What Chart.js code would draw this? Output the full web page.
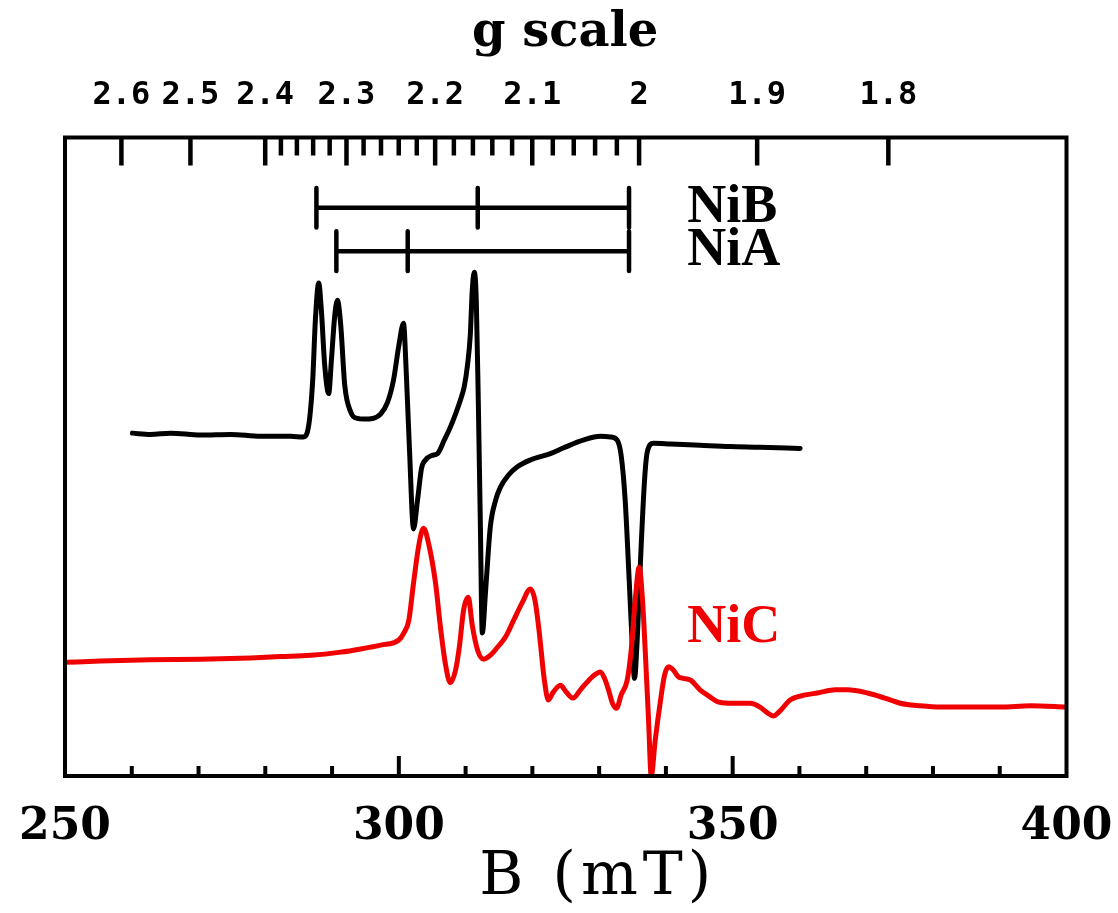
<!DOCTYPE html>
<html>
<head>
<meta charset="utf-8">
<script src="https://cdn.jsdelivr.net/npm/chart.js@4"></script>
<style>
  html, body { margin: 0; padding: 0; background: #fff; }
  canvas { display: block; }
</style>
</head>
<body>
<canvas id="epr" width="1118" height="913"></canvas>
<script>
// microwave frequency used for the g scale, B(mT) = 71.4477 * nu(GHz) / g
const freqGHz = 9.405;

// NiA + NiB spectrum (black), field in mT, intensity in arbitrary units
const fieldNiAB = [260.1, 262.8, 265.8, 270.3, 274.8, 279.3, 283.8, 285.7, 286.5, 287.1,
  287.5, 288.0, 288.4, 288.9, 289.5, 289.9, 290.4, 290.8, 291.3, 291.9,
  292.8, 293.8, 294.7, 296.1, 297.3, 298.3, 299.2, 300.0, 300.7, 301.1,
  301.6, 302.2, 302.8, 303.4, 304.0, 304.9, 305.8, 306.8, 307.7, 308.6,
  309.2, 309.8, 310.3, 310.7, 311.0, 311.3, 311.6, 311.9, 312.2, 312.5,
  313.0, 313.7, 314.5, 315.2, 316.4, 317.7, 319.7, 322.7, 324.9, 327.6,
  330.2, 331.7, 332.7, 333.3, 333.9, 334.5, 335.0, 335.3, 335.7, 336.2,
  336.8, 337.2, 338.1, 340.7, 345.1, 349.6, 354.1, 360.1];
const signalNiAB = [53.7, 53.5, 53.7, 53.4, 53.5, 53.2, 53.2, 53.1, 54.9, 62.0,
  71.4, 77.2, 72.9, 64.3, 59.9, 65.1, 72.1, 74.5, 70.6, 61.2,
  57.0, 56.0, 55.9, 56.0, 56.7, 58.5, 62.0, 67.4, 70.9, 63.5,
  51.0, 38.7, 43.2, 48.2, 49.5, 50.2, 50.5, 52.6, 54.6, 57.0,
  58.8, 61.0, 64.5, 69.0, 76.1, 78.9, 74.5, 58.8, 40.1, 22.4,
  29.1, 39.0, 43.2, 45.2, 47.1, 48.4, 49.5, 50.5, 51.5, 52.6,
  53.2, 53.1, 52.6, 50.2, 43.2, 30.7, 19.7, 15.3, 21.3, 33.8,
  46.3, 50.7, 52.1, 52.0, 51.8, 51.6, 51.5, 51.3];

// NiC spectrum (red)
const fieldNiC = [250.1, 255.3, 262.8, 270.3, 277.8, 282.3, 286.8, 291.3, 294.3, 297.3,
  300.0, 300.8, 301.5, 302.2, 303.0, 303.7, 304.5, 305.5, 306.2, 307.0,
  307.7, 308.5, 309.1, 309.7, 310.4, 311.0, 311.8, 312.7, 313.7, 314.8,
  316.0, 317.2, 318.5, 319.7, 320.4, 321.0, 321.8, 322.4, 323.1, 324.2,
  325.1, 326.1, 327.2, 328.2, 329.3, 330.2, 330.8, 331.4, 332.0, 332.6,
  333.3, 334.2, 334.8, 335.4, 336.0, 336.5, 336.9, 337.4, 337.8, 338.4,
  339.2, 339.8, 340.4, 341.1, 341.9, 342.6, 343.7, 345.1, 346.6, 347.8,
  349.2, 351.1, 352.6, 354.1, 355.2, 356.1, 357.1, 358.6, 360.9, 362.7,
  365.4, 367.2, 370.2, 372.8, 375.1, 378.1, 381.1, 385.6, 390.1, 394.6, 400.0];
const signalNiC = [17.8, 18.0, 18.2, 18.3, 18.5, 18.7, 18.9, 19.4, 19.9, 20.5,
  21.3, 22.5, 24.4, 30.2, 36.2, 38.8, 36.2, 30.2, 23.6, 17.4,
  14.6, 16.6, 20.5, 26.0, 28.0, 23.6, 19.7, 18.3, 18.9, 20.2,
  21.8, 24.4, 27.2, 29.3, 27.5, 22.8, 15.0, 11.9, 13.1, 14.2,
  13.1, 12.2, 13.5, 14.7, 15.8, 16.3, 15.3, 13.5, 11.4, 10.6,
  12.7, 15.0, 19.7, 27.5, 32.7, 27.5, 19.7, 8.8, 0.0, 5.6,
  11.9, 15.8, 17.1, 16.6, 15.5, 15.3, 15.0, 13.5, 12.4, 11.6,
  11.4, 11.4, 11.4, 10.8, 9.9, 9.4, 10.2, 11.9, 12.7, 13.0,
  13.5, 13.5, 13.0, 12.2, 11.4, 11.0, 10.8, 10.8, 10.8, 11.0, 10.8];

// g values of the NiB and NiA components (bars at the top)
const gNiB = [2.336, 2.155, 2.009];
const gNiA = [2.312, 2.230, 2.009];
const barLevelNiB = 89.0;
const barLevelNiA = 82.2;

// axis ticks
const bTickLabels = [250, 300, 350, 400];
const gMajorTicks = [2.6, 2.5, 2.4, 2.3, 2.2, 2.1, 2.0, 1.9, 1.8];
const gMajorLabels = ['2.6', '2.5', '2.4', '2.3', '2.2', '2.1', '2', '1.9', '1.8'];
const gMinorTicks = [2.38, 2.36, 2.34, 2.32, 2.28, 2.26, 2.24, 2.22,
  2.18, 2.16, 2.14, 2.12, 2.08, 2.06, 2.04, 2.02];

function gToField(g) {
  return 71.4477 * freqGHz / g;
}

function toPoints(xs, ys) {
  return xs.map((x, i) => ({ x: x, y: ys[i] }));
}

// horizontal bar with a short vertical mark at every g value
function barPoints(gs, level) {
  const h = 3.1;
  const bs = gs.map(gToField);
  const pts = [{ x: bs[0], y: level }, { x: bs[bs.length - 1], y: level }, { x: bs[0], y: null }];
  bs.forEach(b => {
    pts.push({ x: b, y: level - h }, { x: b, y: level + h }, { x: b, y: null });
  });
  return pts;
}

// frame, inward ticks, labels and titles
const decorations = {
  id: 'decorations',
  afterDatasetsDraw(chart) {
    const { ctx, chartArea: a, scales: { x, y } } = chart;
    ctx.save();
    ctx.strokeStyle = '#000';
    ctx.fillStyle = '#000';
    ctx.lineWidth = 4;
    ctx.strokeRect(a.left, a.top, a.right - a.left, a.bottom - a.top);

    // bottom ticks every 10 mT
    for (let b = 260; b < 400; b += 10) {
      const px = x.getPixelForValue(b);
      const len = b % 50 === 0 ? 20 : 10;
      ctx.beginPath();
      ctx.moveTo(px, a.bottom);
      ctx.lineTo(px, a.bottom - len);
      ctx.stroke();
    }

    // top g scale ticks
    ctx.lineWidth = 4.5;
    gMajorTicks.forEach(g => {
      const px = x.getPixelForValue(gToField(g));
      ctx.beginPath();
      ctx.moveTo(px, a.top);
      ctx.lineTo(px, a.top + 28);
      ctx.stroke();
    });
    gMinorTicks.forEach(g => {
      const px = x.getPixelForValue(gToField(g));
      ctx.beginPath();
      ctx.moveTo(px, a.top);
      ctx.lineTo(px, a.top + 18);
      ctx.stroke();
    });

    ctx.textAlign = 'center';
    ctx.textBaseline = 'middle';

    ctx.font = 'bold 44px "DejaVu Serif"';
    bTickLabels.forEach(b => {
      ctx.fillText(String(b), x.getPixelForValue(b), a.bottom + 52);
    });
    ctx.font = '60px "DejaVu Serif"';
    ctx.letterSpacing = '5px';
    ctx.fillText('B (mT)', x.getPixelForValue(329.8), a.bottom + 102);
    ctx.letterSpacing = '0px';

    ctx.font = 'bold 32px "DejaVu Sans Mono"';
    gMajorTicks.forEach((g, i) => {
      ctx.fillText(gMajorLabels[i], x.getPixelForValue(gToField(g)), a.top - 42);
    });
    ctx.font = 'bold 48px "DejaVu Serif"';
    ctx.fillText('g scale', x.getPixelForValue(324.9), a.top - 104);

    // component names
    ctx.textAlign = 'left';
    ctx.font = 'bold 54px "Liberation Serif"';
    ctx.fillText('NiB', x.getPixelForValue(343.2), y.getPixelForValue(barLevelNiB));
    ctx.fillText('NiA', x.getPixelForValue(343.2), y.getPixelForValue(barLevelNiA));
    ctx.fillStyle = '#f00000';
    ctx.fillText('NiC', x.getPixelForValue(343.2), y.getPixelForValue(23.2));
    ctx.restore();
  }
};

const ctx = document.getElementById('epr').getContext('2d');

const chart = new Chart(ctx, {
    type: 'line',
    data: {
        datasets: [{
            label: 'NiC',
            data: toPoints(fieldNiC, signalNiC),
            borderColor: '#f00000',
            borderWidth: 5,
            cubicInterpolationMode: 'monotone',
            order: 0,
        }, {
            label: 'NiA + NiB',
            data: toPoints(fieldNiAB, signalNiAB),
            borderColor: '#000',
            borderWidth: 5,
            cubicInterpolationMode: 'monotone',
            order: 1,
        }, {
            label: 'NiB bar',
            data: barPoints(gNiB, barLevelNiB),
            borderColor: '#000',
            borderWidth: 4.5,
            order: 2,
        }, {
            label: 'NiA bar',
            data: barPoints(gNiA, barLevelNiA),
            borderColor: '#000',
            borderWidth: 4.5,
            order: 3,
        }],
    },
    options: {
        responsive: false,
        animation: false,
        devicePixelRatio: 1,
        layout: {
            padding: { left: 65, right: 51.5, top: 137.5, bottom: 137 },
        },
        elements: {
            point: { radius: 0, hoverRadius: 0 },
            line: { borderCapStyle: 'round', borderJoinStyle: 'round', fill: false },
        },
        spanGaps: false,
        plugins: {
            legend: { display: false },
            tooltip: { enabled: false },
        },
        scales: {
            x: { type: 'linear', min: 250, max: 400, display: false },
            y: { type: 'linear', min: 0, max: 100, display: false },
        },
    },
    plugins: [decorations],
});
</script>
</body>
</html>
